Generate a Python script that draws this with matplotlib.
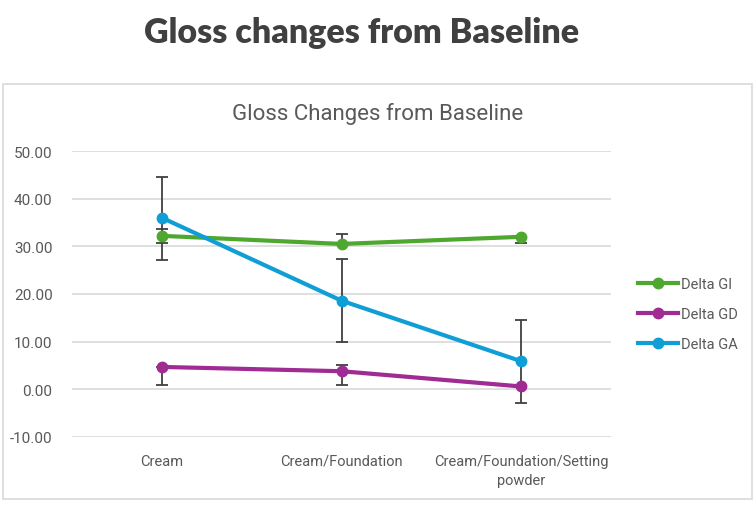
import matplotlib.pyplot as plt
from matplotlib.patches import Rectangle

# data
categories = ['Cream', 'Cream/Foundation', 'Cream/Foundation/Setting\npowder']
delta_gi = [32.2, 30.5, 32.0]
delta_gd = [4.7, 3.8, 0.6]
delta_ga = [36.0, 18.6, 5.9]

# error bars (lower, upper) as drawn
gi_err_lo = [1.4, 0.0, 1.2]
gi_err_hi = [1.4, 2.1, 0.0]
gd_err_lo = [3.7, 2.8, 0.0]
gd_err_hi = [0.0, 1.4, 0.0]
ga_err_lo = [8.8, 8.6, 8.8]
ga_err_hi = [8.5, 8.8, 8.7]

yticks = [-10, 0, 10, 20, 30, 40, 50]

txt = '#595959'
narrow = ['Liberation Sans Narrow', 'Roboto', 'DejaVu Sans']

fig = plt.figure(figsize=(7.56, 5.06), dpi=100)
fig.patches.append(Rectangle((3 / 756, 1 - 500 / 506), 749 / 756, 415 / 506,
                             transform=fig.transFigure, fill=False,
                             edgecolor='#d9d9d9', linewidth=1.2))

fig.text(362 / 756, 1 - 33 / 506, 'Gloss changes from Baseline', ha='center', va='center',
         fontsize=24.5, fontweight='heavy', color='#404040', family=['Lato', 'DejaVu Sans'])
fig.text(378 / 756, 1 - 114 / 506, 'Gloss Changes from Baseline', ha='center', va='center',
         fontsize=16, color=txt, family=narrow)

ax = fig.add_axes([72 / 756, 1 - 438 / 506, 539 / 756, 286 / 506])
x = range(len(categories))

series = [
    ('Delta GI', delta_gi, gi_err_lo, gi_err_hi, '#4ea72e'),
    ('Delta GD', delta_gd, gd_err_lo, gd_err_hi, '#a02b93'),
    ('Delta GA', delta_ga, ga_err_lo, ga_err_hi, '#0f9ed5'),
]
for name, vals, lo, hi, col in series:
    ax.errorbar(x, vals, yerr=[lo, hi], fmt='none', ecolor='#404040',
                elinewidth=1.3, capsize=4, capthick=1.3, zorder=2)
for name, vals, lo, hi, col in series:
    ax.plot(x, vals, color=col, linewidth=3, marker='o', markersize=7.5,
            label=name, zorder=3)

ax.set_xlim(-0.5, 2.5)
ax.set_ylim(-10, 50)
ax.set_yticks(yticks)
ax.set_yticklabels([f'{v:.2f}' for v in yticks])
ax.set_xticks(list(x))
ax.set_xticklabels(categories, family=narrow, fontsize=10.5, color=txt, linespacing=1.5)
ax.tick_params(axis='y', length=0, pad=14, labelsize=11, labelcolor=txt)
ax.tick_params(axis='x', length=0, pad=12)
for lbl in ax.get_yticklabels():
    lbl.set_family(narrow)
ax.grid(axis='y', color='#d9d9d9', linewidth=1.2)
ax.set_axisbelow(True)
for s in ax.spines.values():
    s.set_visible(False)

leg = ax.legend(loc='center left', bbox_to_anchor=(1.025, 0.43), frameon=False,
                handlelength=2.8, labelspacing=1.1, handletextpad=0.2,
                prop={'family': narrow, 'size': 10.5})
for t in leg.get_texts():
    t.set_color(txt)

fig.savefig('out.png', dpi=100)
